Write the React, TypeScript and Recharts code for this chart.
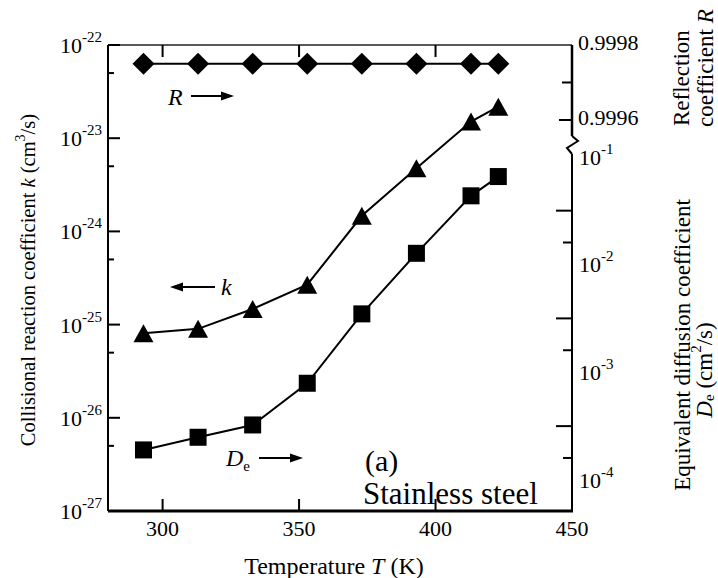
import React from 'react';
import { ComposedChart, Line, XAxis, YAxis } from 'recharts';

// Measured series (stainless steel)
const temperatures = [293, 313, 333, 353, 373, 393, 413, 423];
const kValues = [8.1e-26, 9.0e-26, 1.47e-25, 2.68e-25, 1.47e-24, 4.77e-24, 1.51e-23, 2.18e-23];
const rValues = [0.99975, 0.99975, 0.99975, 0.99975, 0.99975, 0.99975, 0.99975, 0.99975];
const deValues = [1.9e-4, 2.49e-4, 3.24e-4, 7.9e-4, 3.48e-3, 1.27e-2, 4.34e-2, 6.55e-2];

// Axis ticks
const tempTicks = [300, 350, 400, 450];
const topTempTicks = [300, 350, 400];
const kDecadeTicks = [1e-27, 1e-26, 1e-25, 1e-24, 1e-23, 1e-22];
const kMinorTicks = [5e-27, 5e-26, 5e-25, 5e-24, 5e-23];
const rLabelTicks = [0.9996, 0.9998];
const rMinorTicks = [0.9997];
const deDecadeTicks = [1e-4, 1e-3, 1e-2, 1e-1];
const deLongTicks = [3.16e-4, 3.16e-3, 3.16e-2];
const deShortTicks = [1.6e-4, 1.6e-3, 1.6e-2];

const T_DOMAIN: [number, number] = [280, 450];
const K_DOMAIN: [number, number] = [1e-27, 1e-22];
const R_DOMAIN: [number, number] = [0.998557, 0.9998];
const DE_DOMAIN: [number, number] = [5.15e-5, 1.09];

const data = temperatures.map((t, i) => ({ t, k: kValues[i], r: rValues[i], de: deValues[i] }));

const W = 718;
const H = 578;
const PLOT = { left: 108, top: 45, right: 572, bottom: 511 };
const AXIS_BAND = 1;
const BREAK_TOP = 136;
const BREAK_BOTTOM = 154;
const FONT = '"Liberation Serif", "Times New Roman", serif';
const TICK_FS = 22;
const SUP_FS = 15;
const TITLE_FS = 23;

const supStr = (v: number) => String(Math.round(Math.log10(v)));

const LeftTick = (p: any) => {
  const { y, payload } = p;
  const x = PLOT.left;
  const v = payload.value;
  const decade = kDecadeTicks.includes(v);
  return (
    <g>
      <line x1={x} x2={x + (decade ? 12 : 6)} y1={y} y2={y} stroke="#000" strokeWidth={2} />
      {decade && (
        <text x={x - 6} y={y + 8} textAnchor="end" fontFamily={FONT} fontSize={TICK_FS} fill="#000">
          10
          <tspan dy={-11} fontSize={SUP_FS}>{supStr(v)}</tspan>
        </text>
      )}
    </g>
  );
};

const BottomTick = (p: any) => {
  const { x, payload } = p;
  const y = PLOT.bottom;
  return (
    <g>
      <line x1={x} x2={x} y1={y} y2={y - 12} stroke="#000" strokeWidth={2} />
      <text x={x} y={y + 25} textAnchor="middle" fontFamily={FONT} fontSize={TICK_FS} fill="#000">
        {payload.value}
      </text>
    </g>
  );
};

const TopTick = (p: any) => {
  const { x } = p;
  const y = PLOT.top;
  return <line x1={x} x2={x} y1={y} y2={y + 12} stroke="#000" strokeWidth={2} />;
};

const RTick = (p: any) => {
  const { y, payload } = p;
  const x = PLOT.right;
  const v = payload.value;
  const labelled = rLabelTicks.includes(v);
  const len = labelled ? 13 : 10;
  return (
    <g>
      {v < R_DOMAIN[1] && <line x1={x} x2={x - len} y1={y} y2={y} stroke="#000" strokeWidth={2} />}
      {labelled && (
        <text x={x + 6} y={y + 5} fontFamily={FONT} fontSize={TICK_FS} fill="#000">
          {v.toFixed(4)}
        </text>
      )}
    </g>
  );
};

const DeTick = (p: any) => {
  const { y, payload } = p;
  const x = PLOT.right;
  const v = payload.value;
  if (deDecadeTicks.includes(v)) {
    return (
      <text x={x + 7} y={y + 8} fontFamily={FONT} fontSize={TICK_FS} fill="#000">
        10
        <tspan dy={-11} fontSize={SUP_FS}>{supStr(v)}</tspan>
      </text>
    );
  }
  const len = deLongTicks.includes(v) ? 16 : 9;
  return <line x1={x} x2={x - len} y1={y} y2={y} stroke="#000" strokeWidth={2} />;
};

const Diamond = ({ cx, cy }: any) => (
  <polygon points={`${cx - 11},${cy} ${cx},${cy - 11} ${cx + 11},${cy} ${cx},${cy + 11}`} fill="#000" />
);
const Triangle = ({ cx, cy }: any) => (
  <polygon points={`${cx - 10},${cy + 9} ${cx},${cy - 9} ${cx + 10},${cy + 9}`} fill="#000" />
);
const Square = ({ cx, cy }: any) => <rect x={cx - 8.5} y={cy - 8.5} width={17} height={17} fill="#000" />;

const Arrow = ({ from, to, y }: { from: number; to: number; y: number }) => {
  const dir = to > from ? 1 : -1;
  const base = to - dir * 13;
  return (
    <g>
      <line x1={from} x2={base} y1={y} y2={y} stroke="#000" strokeWidth={2} />
      <polygon points={`${to},${y} ${base},${y - 4.5} ${base},${y + 4.5}`} fill="#000" />
    </g>
  );
};

// Plot frame: left, bottom and top spines plus the broken right spine
const Frame = () => (
  <g stroke="#000" fill="none">
    <line x1={PLOT.left} x2={PLOT.left} y1={PLOT.top} y2={PLOT.bottom} strokeWidth={2} />
    <line x1={PLOT.left} x2={PLOT.right + 1} y1={PLOT.bottom} y2={PLOT.bottom} strokeWidth={3} />
    <line x1={PLOT.left} x2={PLOT.right} y1={PLOT.top} y2={PLOT.top} strokeWidth={1.6} stroke="#222" />
    <line x1={PLOT.right} x2={PLOT.right} y1={PLOT.top} y2={BREAK_TOP} strokeWidth={2.5} />
    <polyline
      points={`${PLOT.right},${BREAK_TOP} ${PLOT.right + 6},${BREAK_TOP + 5} ${PLOT.right - 5},${BREAK_TOP + 12} ${PLOT.right},${BREAK_BOTTOM}`}
      strokeWidth={2}
    />
    <line x1={PLOT.right} x2={PLOT.right} y1={BREAK_BOTTOM} y2={PLOT.bottom} strokeWidth={2} />
  </g>
);

const Titles = () => (
  <g fontFamily={FONT} fill="#000">
    <text
      x={28}
      y={280}
      transform="rotate(-90 28 280)"
      textAnchor="middle"
      dominantBaseline="central"
      fontSize={20.5}
    >
      Collisional reaction coefficient <tspan fontStyle="italic">k</tspan> (cm
      <tspan dy={-8} fontSize={14}>3</tspan>
      <tspan dy={8}>/s)</tspan>
    </text>
    <text x={334} y={574} textAnchor="middle" fontSize={24}>
      Temperature <tspan fontStyle="italic">T</tspan> (K)
    </text>
    <text x={681} y={126} transform="rotate(-90 681 126)" dominantBaseline="central" fontSize={TITLE_FS}>
      Reflection
    </text>
    <text x={705} y={127} transform="rotate(-90 705 127)" dominantBaseline="central" fontSize={TITLE_FS}>
      coefficient <tspan fontStyle="italic">R</tspan>
    </text>
    <text
      x={682}
      y={345}
      transform="rotate(-90 682 345)"
      textAnchor="middle"
      dominantBaseline="central"
      fontSize={TITLE_FS}
    >
      Equivalent diffusion coefficient
    </text>
    <text
      x={704}
      y={370}
      transform="rotate(-90 704 370)"
      textAnchor="middle"
      dominantBaseline="central"
      fontSize={TITLE_FS}
    >
      <tspan fontStyle="italic">D</tspan>
      <tspan fontSize={15} dy={5}>e</tspan>
      <tspan dy={-5}> (cm</tspan>
      <tspan dy={-8} fontSize={15}>2</tspan>
      <tspan dy={8}>/s)</tspan>
    </text>
  </g>
);

const Annotations = () => (
  <g fontFamily={FONT} fill="#000">
    <text x={168} y={105} fontSize={24} fontStyle="italic">R</text>
    <Arrow from={191} to={234} y={96} />
    <Arrow from={215} to={170} y={287} />
    <text x={221} y={295} fontSize={24} fontStyle="italic">k</text>
    <text x={226} y={466} fontSize={24}>
      <tspan fontStyle="italic">D</tspan>
      <tspan fontSize={15} dy={5}>e</tspan>
    </text>
    <Arrow from={259} to={303} y={458} />
    <text x={365} y={471} fontSize={30}>(a)</text>
    <text x={363} y={504} fontSize={31}>Stainless steel</text>
  </g>
);

export default function App() {
  return (
    <div style={{ position: 'absolute', left: 0, top: 0, width: W, height: H, background: '#fff' }}>
      <ComposedChart
        width={W}
        height={H}
        data={data}
        margin={{
          top: PLOT.top - AXIS_BAND,
          left: PLOT.left - AXIS_BAND,
          right: W - PLOT.right - 2 * AXIS_BAND,
          bottom: H - PLOT.bottom - AXIS_BAND,
        }}
      >
        <XAxis
          xAxisId="bottom"
          dataKey="t"
          type="number"
          domain={T_DOMAIN}
          allowDataOverflow
          ticks={tempTicks}
          interval={0}
          height={AXIS_BAND}
          tickSize={0}
          tickMargin={0}
          tickLine={false}
          axisLine={false}
          tick={(p: any) => <BottomTick {...p} />}
        />
        <XAxis
          xAxisId="top"
          orientation="top"
          dataKey="t"
          type="number"
          domain={T_DOMAIN}
          allowDataOverflow
          ticks={topTempTicks}
          interval={0}
          height={AXIS_BAND}
          tickSize={0}
          tickMargin={0}
          tickLine={false}
          axisLine={false}
          tick={(p: any) => <TopTick {...p} />}
        />
        <YAxis
          yAxisId="k"
          type="number"
          scale="log"
          domain={K_DOMAIN}
          allowDataOverflow
          ticks={[...kDecadeTicks, ...kMinorTicks]}
          interval={0}
          width={AXIS_BAND}
          tickSize={0}
          tickMargin={0}
          tickLine={false}
          axisLine={false}
          tick={(p: any) => <LeftTick {...p} />}
        />
        <YAxis
          yAxisId="De"
          orientation="right"
          type="number"
          scale="log"
          domain={DE_DOMAIN}
          allowDataOverflow
          ticks={[...deDecadeTicks, ...deLongTicks, ...deShortTicks]}
          interval={0}
          width={AXIS_BAND}
          tickSize={0}
          tickMargin={0}
          tickLine={false}
          axisLine={false}
          tick={(p: any) => <DeTick {...p} />}
        />
        <YAxis
          yAxisId="R"
          orientation="right"
          type="number"
          domain={R_DOMAIN}
          allowDataOverflow
          ticks={[...rLabelTicks, ...rMinorTicks]}
          interval={0}
          width={AXIS_BAND}
          tickSize={0}
          tickMargin={0}
          tickLine={false}
          axisLine={false}
          tick={(p: any) => <RTick {...p} />}
        />
        <Line
          xAxisId="bottom"
          yAxisId="R"
          dataKey="r"
          stroke="#000"
          strokeWidth={2}
          isAnimationActive={false}
          dot={(p: any) => <Diamond key={`r${p.index}`} cx={p.cx} cy={p.cy} />}
          activeDot={false}
        />
        <Line
          xAxisId="bottom"
          yAxisId="k"
          dataKey="k"
          stroke="#000"
          strokeWidth={2}
          isAnimationActive={false}
          dot={(p: any) => <Triangle key={`k${p.index}`} cx={p.cx} cy={p.cy} />}
          activeDot={false}
        />
        <Line
          xAxisId="bottom"
          yAxisId="De"
          dataKey="de"
          stroke="#000"
          strokeWidth={2}
          isAnimationActive={false}
          dot={(p: any) => <Square key={`d${p.index}`} cx={p.cx} cy={p.cy} />}
          activeDot={false}
        />
        <Frame />
        <Titles />
        <Annotations />
      </ComposedChart>
    </div>
  );
}
